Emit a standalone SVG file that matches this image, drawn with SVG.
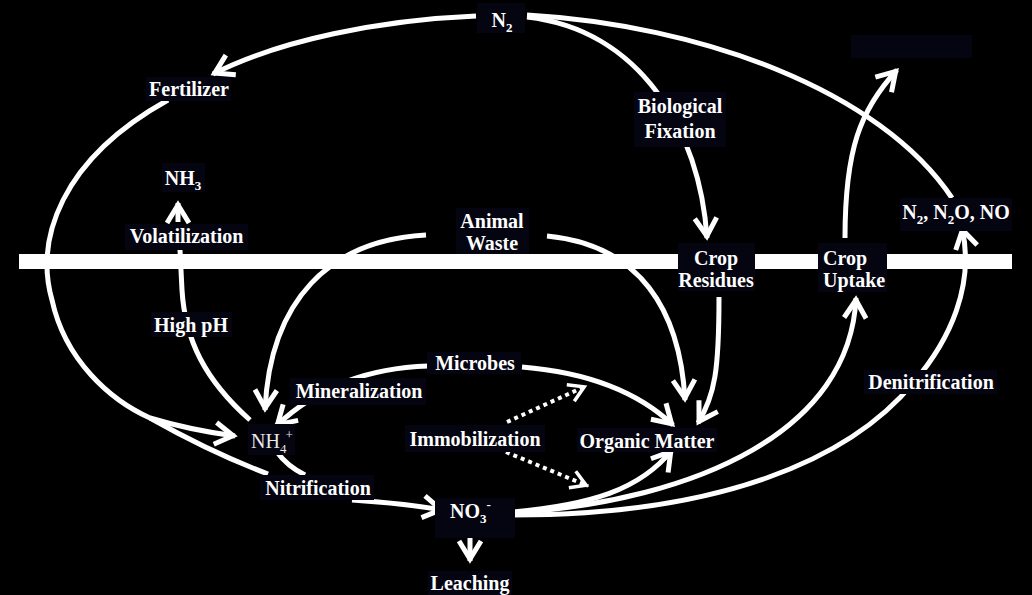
<svg xmlns="http://www.w3.org/2000/svg" width="1032" height="595" viewBox="0 0 1032 595">
<style>
.bg{fill:#050512}
.t{font-family:"Liberation Serif","Times New Roman",serif;font-weight:bold;font-size:20px;fill:#ffffff}
.r{font-weight:normal;fill:#e8e8e8}
.m{text-anchor:middle}
.s{font-size:13px}
.c{fill:none;stroke:#ffffff;stroke-width:5}
.d{fill:none;stroke:#ffffff;stroke-width:4;stroke-dasharray:4 4}
</style>
<defs>
<marker id="ah" markerUnits="userSpaceOnUse" markerWidth="40" markerHeight="40" viewBox="-30 -20 40 40" refX="0" refY="0" orient="auto">
<path d="M-20,-11 L-2,0 L-20,11" fill="none" stroke="#ffffff" stroke-width="5"/>
</marker>
<marker id="ahd" markerUnits="userSpaceOnUse" markerWidth="40" markerHeight="40" viewBox="-30 -20 40 40" refX="0" refY="0" orient="auto">
<path d="M-17,-9 L-2,0 L-17,9" fill="none" stroke="#ffffff" stroke-width="3.5"/>
</marker>
</defs>
<rect width="1032" height="595" fill="#000000"/>
<g id="connectors">
<path class="c" d="M476,16 C380,20 280,40 213,74" marker-end="url(#ah)"/>
<path class="c" d="M168,100 C60,160 35,240 52,300 C65,360 110,400 150,418 Q190,430 235,436" marker-end="url(#ah)"/>
<path class="c" d="M150,418 Q210,452 268,474"/>
<path class="c" d="M352,500 Q400,503 443,510" marker-end="url(#ah)"/>
<path class="c" d="M277,452 Q287,466 305,475"/>
<path class="c" d="M250,420 C205,380 185,340 182,290 L180,250"/>
<path class="c" d="M178,222 L178,203" marker-end="url(#ah)"/>
<path class="c" d="M426,235 C330,240 270,300 265,410" marker-end="url(#ah)"/>
<path class="c" d="M428,366 C370,368 320,385 276,426" marker-end="url(#ah)"/>
<path class="c" d="M522,367 Q620,375 673,425" marker-end="url(#ah)"/>
<path class="c" d="M547,236 C640,245 680,310 685,400" marker-end="url(#ah)"/>
<path class="c" d="M719,297 C719,370 715,395 698,423" marker-end="url(#ah)"/>
<path class="c" d="M527,17 C640,30 700,130 707,238" marker-end="url(#ah)"/>
<path class="c" d="M513,512 C590,505 640,490 672,450" marker-end="url(#ah)"/>
<path class="c" d="M513,513 C700,500 850,430 856,298" marker-end="url(#ah)"/>
<path class="c" d="M513,515 C720,515 850,460 914,382 C950,340 975,285 962,228" marker-end="url(#ah)"/>
<path class="c" d="M527,15 C700,25 880,90 952,198"/>
<path class="c" d="M845,238 C845,150 860,110 897,70" marker-end="url(#ah)"/>
<path class="c" d="M470,527 L470,561" marker-end="url(#ah)"/>
<path class="d" d="M507,422 L586,386" marker-end="url(#ahd)"/>
<path class="d" d="M506,452 L588,486" marker-end="url(#ahd)"/>
</g>
<g id="animal-waste">
<rect class="bg" x="456" y="208" width="73" height="46"/>
<text class="t m" x="492" y="228">Animal</text>
<text class="t m" x="492" y="250">Waste</text>
</g>
<g id="soil-surface">
<rect x="19" y="254" width="993" height="15" fill="#ffffff"/>
</g>
<g id="n2">
<rect class="bg" x="477" y="3" width="48" height="30"/>
<text class="t m" x="502" y="27">N<tspan class="s" dy="5">2</tspan></text>
</g>
<g id="removed">
<rect class="bg" x="851" y="35" width="121" height="23"/>
</g>
<g id="fertilizer">
<rect class="bg" x="146" y="77" width="85" height="24"/>
<text class="t m" x="189" y="96">Fertilizer</text>
</g>
<g id="nh3">
<rect class="bg" x="162" y="163" width="43" height="29"/>
<text class="t m" x="183" y="185">NH<tspan class="s" dy="5">3</tspan></text>
</g>
<g id="volatilization">
<rect class="bg" x="125" y="224" width="123" height="26"/>
<text class="t m" x="186.5" y="243">Volatilization</text>
</g>
<g id="biological-fixation">
<rect class="bg" x="634" y="92" width="92" height="55"/>
<text class="t m" x="680" y="113">Biological</text>
<text class="t m" x="680" y="138">Fixation</text>
</g>
<g id="crop-residues">
<rect class="bg" x="678" y="243" width="77" height="48"/>
<text class="t m" x="716" y="265">Crop</text>
<text class="t m" x="716" y="287">Residues</text>
</g>
<g id="crop-uptake">
<rect class="bg" x="818" y="243" width="69" height="49"/>
<text class="t" x="823" y="265">Crop</text>
<text class="t" x="823" y="287">Uptake</text>
</g>
<g id="gases">
<rect class="bg" x="900" y="198" width="112" height="33"/>
<text class="t m" x="956" y="219">N<tspan class="s" dy="5">2</tspan><tspan dy="-5">, N</tspan><tspan class="s" dy="5">2</tspan><tspan dy="-5">O, NO</tspan></text>
</g>
<g id="high-ph">
<rect class="bg" x="151" y="312" width="81" height="25"/>
<text class="t m" x="191" y="332">High pH</text>
</g>
<g id="microbes">
<rect class="bg" x="427" y="352" width="94" height="22"/>
<text class="t m" x="475" y="370">Microbes</text>
</g>
<g id="mineralization">
<rect class="bg" x="290" y="378" width="136" height="27"/>
<text class="t m" x="359" y="398">Mineralization</text>
</g>
<g id="nh4">
<rect class="bg" x="248" y="424" width="47" height="31"/>
<text class="t r" x="251" y="448">NH<tspan class="s" dy="5">4</tspan><tspan class="s" dy="-14" dx="-1">+</tspan></text>
</g>
<g id="immobilization">
<rect class="bg" x="405" y="425" width="140" height="27"/>
<text class="t m" x="475" y="446">Immobilization</text>
</g>
<g id="organic-matter">
<rect class="bg" x="577" y="428" width="140" height="24"/>
<text class="t m" x="647" y="448">Organic Matter</text>
</g>
<g id="denitrification">
<rect class="bg" x="864" y="370" width="133" height="24"/>
<text class="t m" x="931" y="389">Denitrification</text>
</g>
<g id="nitrification">
<rect class="bg" x="260" y="475" width="114" height="25"/>
<text class="t m" x="318" y="495">Nitrification</text>
</g>
<g id="no3">
<rect class="bg" x="435" y="498" width="80" height="40"/>
<text class="t" x="450" y="518">NO<tspan class="s" dy="5">3</tspan><tspan class="s" dy="-14">-</tspan></text>
</g>
<g id="leaching">
<rect class="bg" x="428" y="571" width="84" height="24"/>
<text class="t m" x="470" y="590">Leaching</text>
</g>
</svg>
